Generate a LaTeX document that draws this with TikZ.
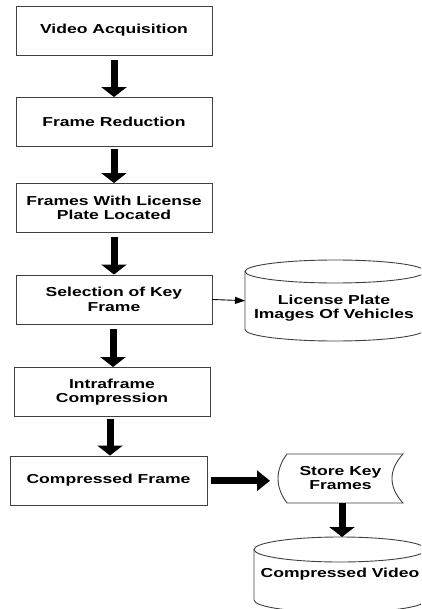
\documentclass[tikz,border=0pt]{standalone}
\usepackage{fontspec}
\newfontfamily\lab{Liberation Sans}[FakeStretch=1.35]
\usetikzlibrary{arrows.meta}
\begin{document}
\begin{tikzpicture}[x=1pt,y=-1pt,
  lbl/.style={align=center, inner sep=0pt, text=black,
    font=\lab\bfseries\fontsize{13}{14.5}\selectfont},
  box/.style={lbl, draw=black!75, line width=0.9pt, minimum width=196pt, minimum height=49pt},
  outline/.style={draw=black!75, line width=0.9pt},
  big/.style={line width=7pt, -{Triangle[width=25pt,length=10pt]}},
  mid/.style={line width=6.5pt, -{Triangle[width=20pt,length=13pt]}},
  thin/.style={line width=0.9pt, -{Triangle[width=7pt,length=10pt]}}]
\useasboundingbox (0,0) rectangle (421,609);
\clip (0,0) rectangle (421,609);

\node[box] (b1) at (114,30.5) {Video Acquisition};
\node[box] (b2) at (114,122) {Frame Reduction};
\node[box] (b3) at (114,208) {Frames With License\\Plate Located};
\node[box] (b4) at (114,299.5) {Selection of Key\\Frame};
\node[box] (b5) at (112,392) {Intraframe\\Compression};
\node[box, minimum width=197pt] (b6) at (108.5,480.5) {Compressed Frame};

% cylinder 1
\draw[outline] (245,271.5) -- (245,329.5)
  arc[start angle=180, end angle=360, x radius=90pt, y radius=11.5pt]
  -- (425,271.5);
\draw[outline] (335,271.5) ellipse [x radius=90pt, y radius=11.5pt];
\coordinate (db1w) at (245,300.7);
\node[lbl] (db1) at (334,308) {License Plate\\Images Of Vehicles};

% store shape
\draw[outline] (287,454) -- (403,454)
  .. controls (388.3,470) and (388.3,487) .. (403,503)
  -- (287,503)
  .. controls (275,487) and (275,470) .. (287,454) -- cycle;
\node[lbl, minimum width=116pt, minimum height=49pt] (st) at (340.5,478) {Store Key\\Frames};
\coordinate (stw) at (270,480.7);

% cylinder 2
\draw[outline] (254,549.5) -- (254,600)
  arc[start angle=180, end angle=360, x radius=86pt, y radius=12.5pt]
  -- (426,549.5);
\draw[outline] (340,549.5) ellipse [x radius=86pt, y radius=12.5pt];
\coordinate (db2n) at (342,537);
\node[lbl] (db2) at (340,574.5) {Compressed Video};

% arrows
\draw[big, shorten <=5pt] (b1.south) -- (b2.north);
\draw[big, shorten <=2pt] (b2.south) -- (b3.north);
\draw[big, shorten <=4pt] (b3.south) -- (b4.north);
\draw[big, shorten <=5pt] ([xshift=-1pt]b4.south) -- ([xshift=-1pt]b4.south |- b5.north);
\draw[big, shorten <=2pt] ([xshift=-2pt]b5.south) -- ([xshift=-2pt]b5.south |- b6.north);
\draw[thin] (b4.east) -- (db1w);
\draw[mid, shorten <=4pt] (b6.east |- stw) -- (stw);
\draw[big] (342,503) -- (db2n);
\end{tikzpicture}
\end{document}
